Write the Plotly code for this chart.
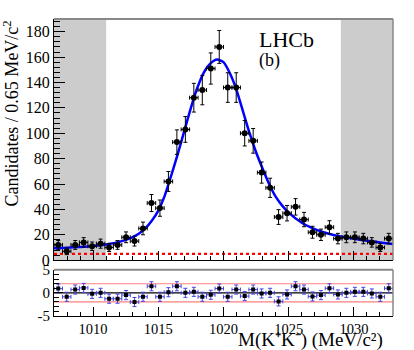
import plotly.graph_objects as go

# binned data: 40 bins of 0.65 MeV from 1007 to 1033
bin_lo = 1007.0
bin_w = 0.65
counts = [12, 7, 12, 14, 11, 13, 10, 12, 18, 15, 25, 45, 41, 62, 93, 103, 128, 134, 151, 168,
          136, 136, 100, 94, 69, 57, 34, 37, 42, 32, 22, 20, 26, 17, 18, 18, 17, 14, 10, 17]
pulls = [0.94, -0.87, 0.72, 1.09, -0.22, 0.0, -1.3, -1.3, -0.5, -2.03, -0.87, 1.45, -0.87, 0.14,
         1.45, 0.0, 0.22, -0.87, -0.43, 0.94, -0.87, 0.72, -0.72, 0.72, -0.14, 0.0, -1.88, -0.36,
         1.45, 0.72, -0.8, -0.5, 1.0, -0.36, 0.0, 0.22, 0.22, -0.14, -0.87, 1.0]

# fitted total model
fit_x = [1007, 1008, 1009, 1010, 1011, 1012, 1013, 1013.5, 1014, 1014.5, 1015, 1015.5, 1016,
         1016.5, 1017, 1017.5, 1018, 1018.5, 1019, 1019.5, 1020, 1020.5, 1021, 1021.5, 1022,
         1022.5, 1023, 1023.5, 1024, 1024.5, 1025, 1026, 1027, 1028, 1029, 1030, 1031, 1032, 1033]
fit_y = [9.3, 9.8, 10.4, 11.2, 12.4, 14.4, 18.0, 20.8, 25.0, 31, 39, 51, 67, 84, 102, 120, 136,
         148, 155, 158, 156, 147, 134, 117, 100, 85, 72, 60, 50, 43, 37.5, 29.5, 24.5, 21, 18.6,
         16.8, 15.3, 14.0, 12.8]
bkg_level = 5.0

x_range = [1007, 1033]
sidebands = [(1007, 1011), (1029, 1033)]
pull_band = 2

centers = [bin_lo + bin_w * (i + 0.5) for i in range(len(counts))]
errs = [c ** 0.5 for c in counts]

SERIF = "Liberation Serif"

fig = go.Figure()

fig.add_trace(go.Scatter(
    x=x_range, y=[bkg_level, bkg_level], mode="lines",
    line=dict(color="#ff0000", width=2.2, dash="dot"),
    xaxis="x", yaxis="y", showlegend=False, hoverinfo="skip",
))
fig.add_trace(go.Scatter(
    x=fit_x, y=fit_y, mode="lines",
    line=dict(color="#0000ff", width=2.5, shape="spline", smoothing=0.6),
    xaxis="x", yaxis="y", showlegend=False,
))
fig.add_trace(go.Scatter(
    x=centers, y=counts, mode="markers",
    marker=dict(color="black", size=6, symbol="circle"),
    error_y=dict(type="data", array=errs, color="black", thickness=1, width=2),
    error_x=dict(type="constant", value=bin_w / 2, color="black", thickness=1, width=2),
    xaxis="x", yaxis="y", showlegend=False,
))

# pull panel
fig.add_trace(go.Scatter(
    x=centers, y=pulls, mode="markers",
    marker=dict(color="black", size=4, symbol="square"),
    error_y=dict(type="constant", value=1, color="#4545e0", thickness=1, width=2),
    error_x=dict(type="constant", value=bin_w / 2, color="#4545e0", thickness=1, width=2),
    xaxis="x2", yaxis="y2", showlegend=False,
))

shapes = []
for a, b in sidebands:
    shapes.append(dict(type="rect", xref="x", yref="y domain", x0=a, x1=b, y0=0, y1=1,
                       fillcolor="#cccccc", line=dict(width=0), layer="below"))
for lvl, col in [(pull_band, "#ff8080"), (-pull_band, "#ff8080"), (0, "black")]:
    shapes.append(dict(type="line", xref="x2", yref="y2", x0=x_range[0], x1=x_range[1],
                       y0=lvl, y1=lvl, line=dict(color=col, width=1.2), layer="below"))
# grey top / right frame edges
for ax_x, ax_y in [("x", "y"), ("x2", "y2")]:
    shapes.append(dict(type="line", xref=ax_x + " domain", yref=ax_y + " domain",
                       x0=0, x1=1, y0=1, y1=1, line=dict(color="#888888", width=2)))
    shapes.append(dict(type="line", xref=ax_x + " domain", yref=ax_y + " domain",
                       x0=1, x1=1, y0=0, y1=1, line=dict(color="#888888", width=1.5)))

axis_common = dict(showline=True, linecolor="black", linewidth=1, ticks="inside",
                   tickcolor="black", showgrid=False, zeroline=False, mirror=False)

fig.update_layout(
    width=414, height=350,
    margin=dict(l=53.5, r=21, t=14, b=34.3),
    plot_bgcolor="white", paper_bgcolor="white",
    font=dict(family=SERIF, color="black"),
    shapes=shapes,
    xaxis=dict(domain=[0, 1], anchor="y", range=x_range, tick0=1010, dtick=5, ticklen=9,
               showticklabels=False,
               minor=dict(ticks="inside", ticklen=4.5, dtick=1, tick0=1007, tickcolor="black"),
               **axis_common),
    yaxis=dict(domain=[0.188, 1], anchor="x", range=[0, 190], dtick=20, ticklen=11,
               tickfont=dict(size=16, family=SERIF),
               minor=dict(ticks="inside", ticklen=5.5, dtick=4, tickcolor="black"),
               **axis_common),
    xaxis2=dict(domain=[0, 1], anchor="y2", range=x_range, tick0=1010, dtick=5, ticklen=9,
                tickfont=dict(size=14.5, family=SERIF), matches="x",
                minor=dict(ticks="inside", ticklen=4.5, dtick=1, tick0=1007, tickcolor="black"),
                **axis_common),
    yaxis2=dict(domain=[0, 0.156], anchor="x2", range=[-5.1, 5.1], tickvals=[-5, 0, 5],
                ticktext=["-5", "0", "5"], ticklen=9,
                tickfont=dict(size=15, family=SERIF),
                minor=dict(ticks="inside", ticklen=4.5, dtick=1, tick0=0, tickcolor="black"),
                **axis_common),
    annotations=[
        dict(text="Candidates / 0.65 MeV/c<sup>2</sup>", textangle=-90,
             xref="paper", yref="paper", x=-0.128, y=1.0, xanchor="center", yanchor="top",
             showarrow=False, font=dict(size=18, family=SERIF)),
        dict(text="M(K\u207aK\u207b) (MeV/c\u00b2)",
             xref="paper", yref="paper", x=0.976, y=-0.082, xanchor="right", yanchor="middle",
             showarrow=False, font=dict(size=19, family=SERIF)),
        dict(text="LHCb", xref="paper", yref="paper", x=0.599, y=0.930,
             xanchor="left", yanchor="middle", showarrow=False, font=dict(size=22, family=SERIF)),
        dict(text="(b)", xref="paper", yref="paper", x=0.599, y=0.861,
             xanchor="left", yanchor="middle", showarrow=False, font=dict(size=18, family=SERIF)),
    ],
)

fig.write_html("out.html", config={"displayModeBar": False},
               post_script="document.body.style.margin='0';")
